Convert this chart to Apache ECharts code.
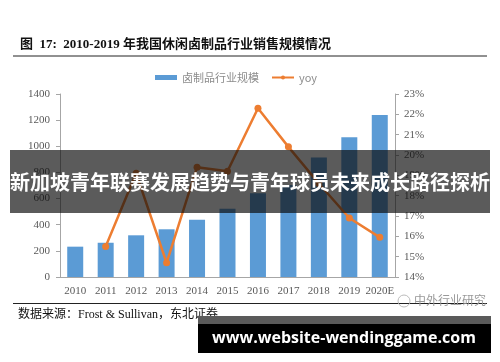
<!DOCTYPE html>
<html><head><meta charset="utf-8">
<script src="https://cdn.jsdelivr.net/npm/echarts@6/dist/echarts.min.js"></script>
<style>html,body{margin:0;padding:0;background:#fff}#c{width:500px;height:362px}</style>
</head><body><div id="c"></div>
<script>
const categories = ['2010','2011','2012','2013','2014','2015','2016','2017','2018','2019','2020E'];
const scaleValues = [232, 262, 319, 365, 438, 523, 640, 704, 914, 1069, 1239];
const yoyValues = [null, 15.5, 19.1, 14.7, 19.4, 19.2, 22.3, 20.4, 18.6, 16.9, 15.95];
const leftTicks = [0, 1400, 200];
const rightTicks = [14, 23, 1];
const titleText = '图  17:  2010-2019 年我国休闲卤制品行业销售规模情况';
const sourceText = '数据来源：Frost & Sullivan，东北证券';
const bannerText = '新加坡青年联赛发展趋势与青年球员未来成长路径探析';
const urlText = 'www.website-wendinggame.com';
const watermarkText = '中外行业研究';

const serif = '"Liberation Serif","Times New Roman","Noto Sans CJK SC",serif';
const chart = echarts.init(document.getElementById('c'));
chart.setOption({
  animation: false,
  grid: {left: 60, right: 105, top: 94, bottom: 85},
  legend: {
    top: 67, left: 150, itemGap: 12, itemWidth: 22, itemHeight: 5,
    textStyle: {color: '#8c8c8c', fontSize: 11, fontFamily: '"Noto Sans CJK SC",sans-serif'},
    data: [{name: '卤制品行业规模', icon: 'rect'}, {name: 'yoy'}]
  },
  xAxis: {
    type: 'category', data: categories,
    axisLine: {lineStyle: {color: '#a6a6a6'}}, axisTick: {show: false},
    axisLabel: {color: '#595959', fontSize: 11, fontFamily: serif, margin: 9, interval: 0}
  },
  yAxis: [{
    type: 'value', min: leftTicks[0], max: leftTicks[1], interval: leftTicks[2],
    axisLine: {show: true, lineStyle: {color: '#a6a6a6'}},
    axisTick: {show: true, inside: false, length: 4, lineStyle: {color: '#a6a6a6'}},
    splitLine: {show: false},
    axisLabel: {color: '#595959', fontSize: 11, fontFamily: serif, margin: 10, formatter: v => String(v)}
  }, {
    type: 'value', min: rightTicks[0], max: rightTicks[1], interval: rightTicks[2],
    axisLine: {show: true, lineStyle: {color: '#a6a6a6'}},
    axisTick: {show: true, length: 4, lineStyle: {color: '#a6a6a6'}},
    splitLine: {show: false},
    axisLabel: {color: '#595959', fontSize: 11, fontFamily: serif, margin: 9, formatter: v => v + '%'}
  }],
  series: [{
    name: '卤制品行业规模', type: 'bar', data: scaleValues, barWidth: 16,
    itemStyle: {color: '#5b9bd5'}
  }, {
    name: 'yoy', type: 'line', yAxisIndex: 1, data: yoyValues,
    symbol: 'circle', symbolSize: 7, connectNulls: false,
    lineStyle: {color: '#ed7d31', width: 2.5}, itemStyle: {color: '#ed7d31'}
  }],
  graphic: [
    {type: 'text', left: 20, top: 38, style: {text: titleText, fill: '#111', font: 'bold 13px ' + serif}},
    {type: 'line', shape: {x1: 13, y1: 56, x2: 487, y2: 56}, style: {stroke: '#222', lineWidth: 1}},
    {type: 'line', shape: {x1: 13, y1: 303.5, x2: 487, y2: 303.5}, style: {stroke: '#222', lineWidth: 1}},
    {type: 'text', left: 18, top: 309, style: {text: sourceText, fill: '#111', font: '12px ' + serif}},
    {type: 'circle', shape: {cx: 404, cy: 301, r: 6}, style: {fill: 'none', stroke: '#bbb', lineWidth: 1}},
    {type: 'text', left: 414, top: 294, style: {text: watermarkText, fill: '#999', font: '12px "Noto Sans CJK SC",sans-serif'}},
    {type: 'rect', shape: {x: 10, y: 150, width: 480, height: 63}, style: {fill: 'rgba(10,10,10,0.67)'}, z: 100},
    {type: 'text', x: 250, y: 182, style: {text: bannerText, fill: '#fff', font: 'bold 20px "Noto Sans CJK SC",sans-serif', textAlign: 'center', textVerticalAlign: 'middle'}, z: 101},
    {type: 'rect', shape: {x: 198, y: 316, width: 293, height: 37}, style: {fill: '#5a5a5a'}, z: 100},
    {type: 'rect', shape: {x: 198, y: 324, width: 293, height: 29}, style: {fill: '#000'}, z: 100},
    {type: 'text', x: 344, y: 338, style: {text: urlText, fill: '#fff', font: 'bold 16px "Open Sans","DejaVu Sans",sans-serif', textAlign: 'center', textVerticalAlign: 'middle'}, z: 101}
  ]
});
</script></body></html>
